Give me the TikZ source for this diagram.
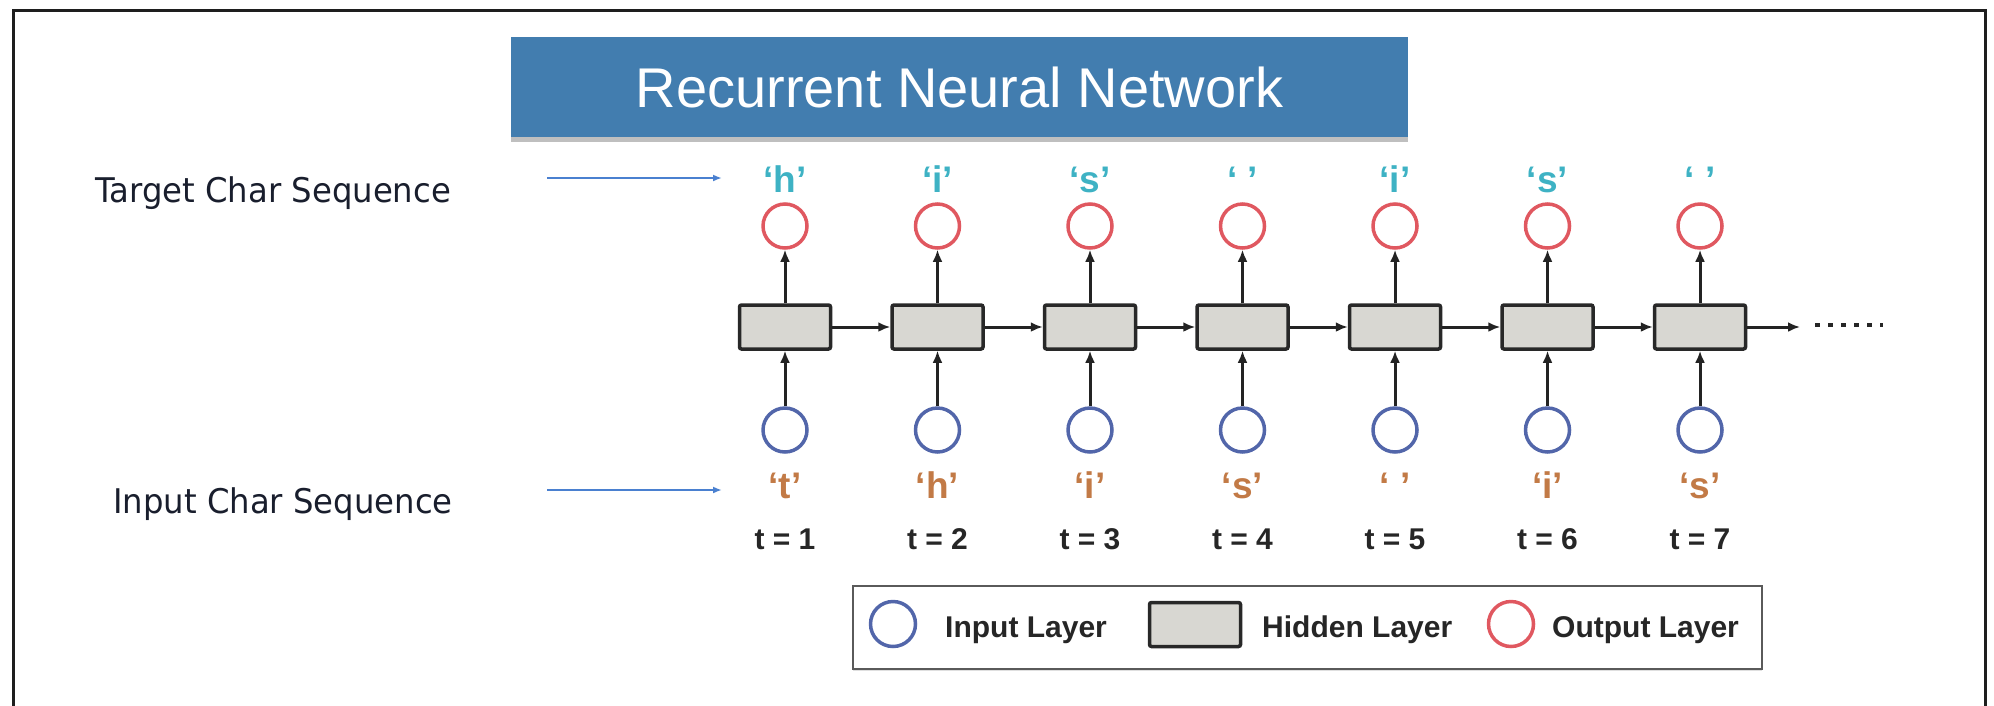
\documentclass[tikz,border=0pt]{standalone}
\usepackage{fontspec}
\setmainfont{Liberation Sans}
\newfontfamily\lblfont[FakeStretch=0.95]{DejaVu Sans}
\usetikzlibrary{arrows.meta,shadows}
\definecolor{titleblue}{RGB}{66,125,175}
\definecolor{inblue}{RGB}{82,102,170}
\definecolor{outred}{RGB}{224,88,96}
\definecolor{hidfill}{RGB}{216,215,210}
\definecolor{hidborder}{RGB}{40,40,40}
\definecolor{arrowblack}{RGB}{35,35,35}
\definecolor{outteal}{RGB}{62,178,196}
\definecolor{inbrown}{RGB}{194,122,70}
\definecolor{seqblue}{RGB}{74,128,208}
\definecolor{labelink}{RGB}{25,30,45}
\definecolor{legendgray}{RGB}{90,90,90}
\definecolor{framegray}{RGB}{30,30,30}
\begin{document}
\begin{tikzpicture}[x=1pt,y=-1pt,
  incirc/.style={circle,draw=inblue,line width=3.5pt,minimum size=44pt,inner sep=0pt},
  outcirc/.style={circle,draw=outred,line width=3.5pt,minimum size=44pt,inner sep=0pt},
  hid/.style={rectangle,draw=hidborder,fill=hidfill,line width=3.5pt,rounded corners=2pt,minimum width=91pt,minimum height=44pt,inner sep=0pt},
  arr/.style={draw=arrowblack,line width=3pt,-{Latex[length=12pt,width=10pt]}},
  seqarr/.style={draw=seqblue,line width=2pt,-{Latex[length=9pt,width=7pt]}},
  charlbl/.style={anchor=base,inner sep=0pt,font=\fontsize{37pt}{40pt}\selectfont\bfseries},
  tlbl/.style={anchor=base,inner sep=0pt,text=black!85,font=\fontsize{30pt}{34pt}\selectfont\bfseries},
  leglbl/.style={anchor=base west,inner sep=0pt,text=black!85,font=\fontsize{30pt}{34pt}\selectfont\bfseries},
  seqlbl/.style={anchor=base west,inner sep=0pt,text=labelink,font=\lblfont\fontsize{34pt}{40pt}\selectfont}
]
\useasboundingbox (0,0) rectangle (1994,705);
% outer frame
\draw[framegray,line width=3pt] (13,715) -- (13,10) -- (1985,10) -- (1985,715);
% title
\node[fill=titleblue,minimum width=897pt,minimum height=100pt,inner sep=0pt,
      drop shadow={shadow xshift=0pt,shadow yshift=-5pt,opacity=0.5},
      text=white,font=\fontsize{56pt}{60pt}\selectfont] (title) at (959.5,87) {Recurrent Neural Network};
% left labels
\node[seqlbl] (tgt) at (95,202) {Target Char Sequence};
\node[seqlbl] (inp) at (113,513) {Input Char Sequence};
\coordinate (ta) at (547,178);
\coordinate (tb) at (722,178);
\coordinate (ia) at (547,490);
\coordinate (ib) at (722,490);
\draw[seqarr] (ta) -- (tb);
\draw[seqarr] (ia) -- (ib);
% columns
\foreach \i/\o/\n in {1/‘h’/‘t’,2/‘i’/‘h’,3/‘s’/‘i’,4/‘\ ’/‘s’,5/‘i’/‘\ ’,6/‘s’/‘i’,7/‘\ ’/‘s’}{
  \pgfmathsetmacro{\cx}{785+152.5*(\i-1)}
  \node[hid] (h\i) at (\cx,327) {};
  \node[outcirc] (y\i) at (\cx,226) {};
  \node[incirc] (x\i) at (\cx,430) {};
  \node[charlbl,text=outteal] (yl\i) at (\cx,192) {\o};
  \node[charlbl,text=inbrown] (xl\i) at (\cx,498) {\n};
  \node[tlbl] (t\i) at (\cx,549) {t = \i};
  \draw[arr] (x\i) -- (h\i);
  \draw[arr] (h\i) -- (y\i);
}
\foreach \i/\j in {1/2,2/3,3/4,4/5,5/6,6/7}{
  \draw[arr] (h\i) -- (h\j);
}
\coordinate (hend) at (1800,327);
\draw[arr] (h7) -- (hend);
\draw[black!85,line width=4.5pt,dash pattern=on 4.5pt off 8.5pt] (1815,325) -- (1883,325);
% legend
\node[draw=legendgray,line width=2.5pt,minimum width=909pt,minimum height=83pt,inner sep=0pt,fill=white,
      drop shadow={shadow xshift=0pt,shadow yshift=-2pt,opacity=0.25}] (legend) at (1307.5,627.5) {};
\node[incirc,minimum size=45pt] (lin) at (893,624) {};
\node[leglbl] (linl) at (945,637) {Input Layer};
\node[hid] (lhid) at (1195,624.5) {};
\node[leglbl] (lhidl) at (1262,637) {Hidden Layer};
\node[outcirc,minimum size=45pt] (lout) at (1511,624) {};
\node[leglbl] (loutl) at (1552,637) {Output Layer};
\end{tikzpicture}
\end{document}
